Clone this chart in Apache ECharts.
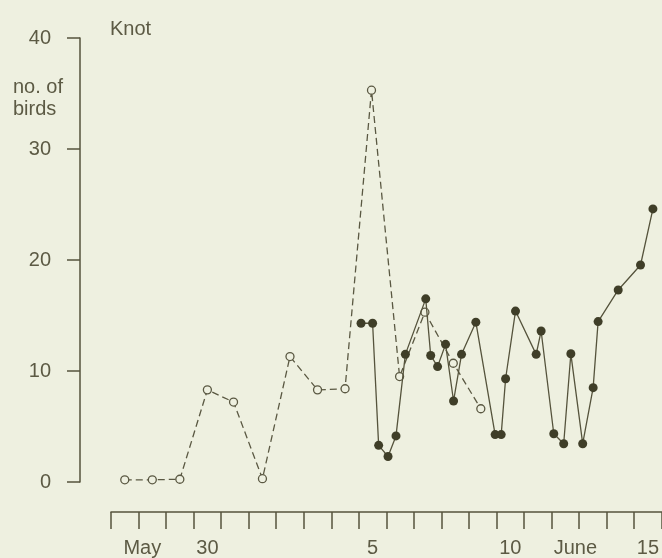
<!DOCTYPE html>
<html>
<head>
<meta charset="utf-8">
<script src="https://cdn.jsdelivr.net/npm/echarts@6/dist/echarts.min.js"></script>
<style>
html,body{margin:0;padding:0;background:#eef0e0;}
#chart{width:662px;height:558px;}
</style>
</head>
<body>
<div id="chart"></div>
<script>
// Day positions: May 27 occupies [0,1], centre 0.5; June 15 occupies [19,20]
const xTickLabels = ['', 'May', '', '30', '', '', '', '', '', '5', '', '', '', '', '10', '', 'June', '', '', '15'];
const yTicks = [0, 10, 20, 30, 40];

// open circles, dashed line
const openDays   = [0.5, 1.5, 2.5, 3.5, 4.45, 5.5, 6.5, 7.5, 8.5, 9.46, 10.48, 11.4, 12.43, 13.43];
const openCounts = [0.2, 0.2, 0.25, 8.3, 7.2, 0.3, 11.3, 8.3, 8.4, 35.3, 9.5, 15.3, 10.7, 6.6];

// filled circles, solid line
const filledDays   = [9.08, 9.5, 9.72, 10.06, 10.35, 10.69, 11.43, 11.61, 11.86, 12.15, 12.44, 12.73, 13.25, 13.95,
                      14.17, 14.33, 14.69, 15.44, 15.62, 16.08, 16.44, 16.7, 17.13, 17.51, 17.69, 18.42, 19.23, 19.68];
const filledCounts = [14.3, 14.3, 3.3, 2.3, 4.15, 11.5, 16.5, 11.4, 10.4, 12.4, 7.3, 11.5, 14.4, 4.27,
                      4.27, 9.3, 15.4, 11.5, 13.6, 4.35, 3.45, 11.55, 3.45, 8.5, 14.45, 17.3, 19.55, 24.6];

const ink = '#55533c';
const textCol = '#5c5a44';
const font = 'Liberation Sans, Arial, sans-serif';

const chart = echarts.init(document.getElementById('chart'));
const labelData = xTickLabels.map((t, i) => {
  if (t === 'May') return {value: t, textStyle: {padding: [0, 20, 0, 0]}};
  if (t === 'June') return {value: t, textStyle: {padding: [0, 0, 0, 20]}};
  return t;
});

chart.setOption({
  backgroundColor: '#eef0e0',
  animation: false,
  graphic: [
    {type: 'text', left: 110, top: 19, style: {text: 'Knot', font: '20px ' + font, fill: textCol}},
    {type: 'text', left: 13, top: 76, style: {text: 'no. of\nbirds', font: '20px ' + font, fill: textCol, lineHeight: 22}}
  ],
  grid: {left: 111, right: -3, top: 38, bottom: 76},
  xAxis: [
    {
      type: 'value', min: 0, max: 20, interval: 1, offset: 30,
      axisLine: {show: true, onZero: false, lineStyle: {color: ink, width: 1.5}},
      axisTick: {show: true, inside: false, length: 17, lineStyle: {color: ink, width: 1.5}},
      axisLabel: {show: false},
      splitLine: {show: false}
    },
    {
      type: 'category', data: labelData, boundaryGap: true, offset: 30, position: 'bottom',
      axisLine: {show: false, onZero: false}, axisTick: {show: false}, splitLine: {show: false},
      axisLabel: {interval: 0, margin: 26, color: textCol, fontSize: 20, fontFamily: font}
    }
  ],
  yAxis: {
    type: 'value', min: 0, max: 40, interval: 10, offset: 31,
    axisLine: {show: true, onZero: false, lineStyle: {color: ink, width: 1.5}},
    axisTick: {show: true, inside: false, length: 13, lineStyle: {color: ink, width: 1.5}},
    axisLabel: {margin: 29, color: textCol, fontSize: 20, fontFamily: font,
                formatter: v => yTicks.includes(v) ? String(v) : ''},
    splitLine: {show: false}
  },
  series: [
    {
      type: 'line', xAxisIndex: 0,
      data: openDays.map((d, i) => [d, openCounts[i]]),
      symbol: 'circle', symbolSize: 8, showSymbol: true,
      lineStyle: {color: '#5a5842', width: 1.3, type: [7, 4]},
      itemStyle: {color: '#eef0e0', borderColor: '#5a5842', borderWidth: 1.3},
      z: 2
    },
    {
      type: 'line', xAxisIndex: 0,
      data: filledDays.map((d, i) => [d, filledCounts[i]]),
      symbol: 'circle', symbolSize: 9, showSymbol: true,
      lineStyle: {color: '#55533c', width: 1.3},
      itemStyle: {color: '#3f3e28', borderColor: '#3f3e28', borderWidth: 0},
      z: 3
    }
  ]
});
</script>
</body>
</html>
